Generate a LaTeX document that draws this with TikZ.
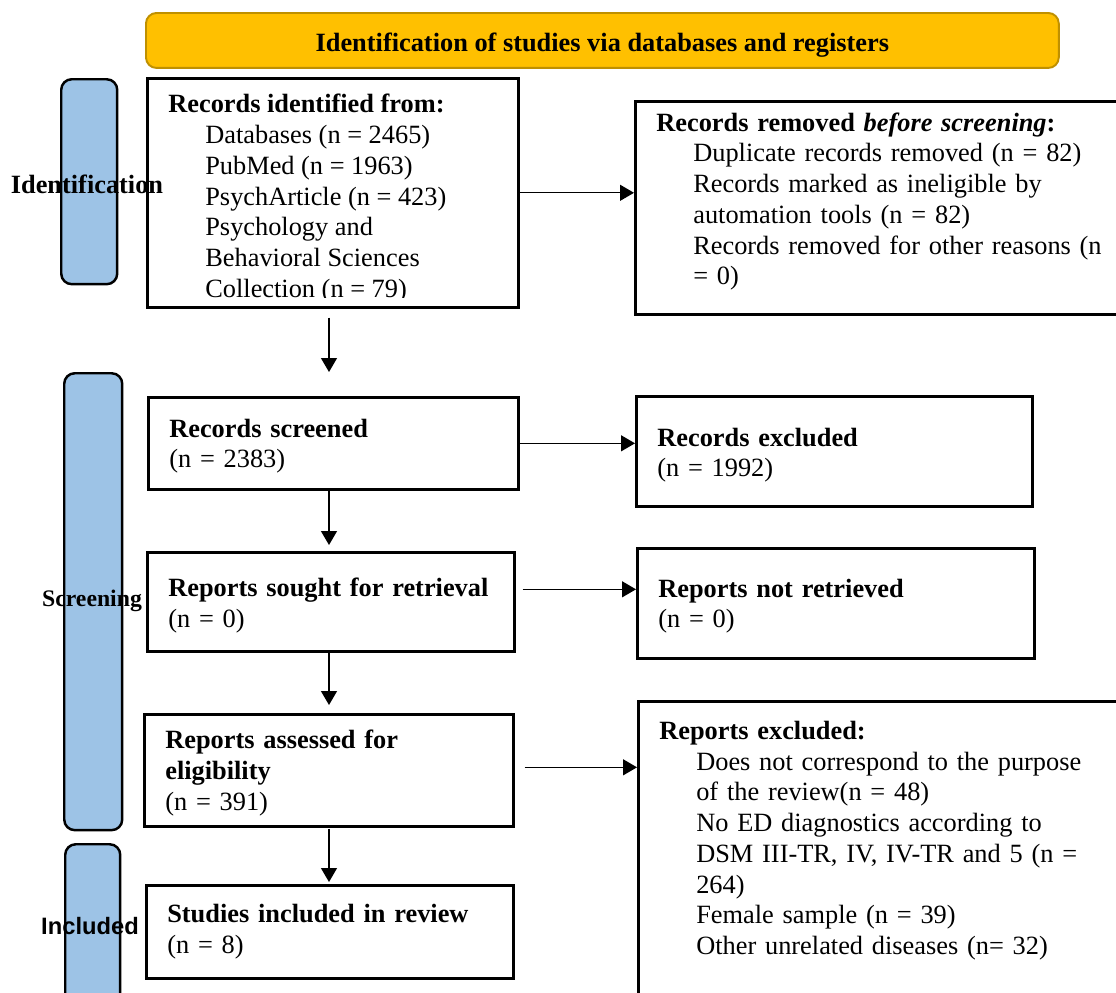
\documentclass[tikz,border=0pt]{standalone}
\usepackage{fontspec}
\setmainfont{Liberation Serif}
\newfontfamily\stagesans{Liberation Sans}
\usetikzlibrary{arrows.meta}
\definecolor{cgold}{HTML}{FFC000}
\definecolor{cgoldline}{HTML}{BF9000}
\definecolor{cstage}{HTML}{9DC3E6}
\newcommand{\indentline}{\hspace*{0.74cm}}
\tikzset{
  every picture/.style={font=\fontsize{15pt}{17.5pt}\selectfont},
  box/.style={draw=black, line width=1.5pt, align=left, anchor=north west, inner xsep=0.42cm, inner ysep=0pt},
  stage/.style={draw=black, fill=cstage, line width=1.4pt, rounded corners=6pt, anchor=north west, inner sep=0pt},
  stagelabel/.style={font=\bfseries\fontsize{13.5pt}{16pt}\selectfont, inner sep=0pt},
  arrow/.style={-{Triangle[length=0.28cm, width=0.32cm]}, draw=black, line width=0.75pt},
}

\begin{document}
\begin{tikzpicture}[x=0.02cm, y=-0.02cm,
  header/.style={draw=cgoldline, fill=cgold, line width=1.1pt, rounded corners=6pt, anchor=north west, inner sep=0pt, text height=13pt, text depth=0pt, font=\bfseries\fontsize{15pt}{17.5pt}\selectfont}]
  \useasboundingbox (0,0) rectangle (1116,992);
  \coordinate (spine) at (329,0);
  \node[header, minimum width=18.26cm, minimum height=1.1cm] (head) at (145,12) {Identification of studies via databases and registers};
  \node[stage, minimum width=1.12cm, minimum height=4.1cm] (stid) at (60,78) {};
  \node[stage, minimum width=1.16cm, minimum height=9.14cm] (stscr) at (63,372) {};
  \node[stage, minimum width=1.1cm, minimum height=4.2cm] (stinc) at (64,843) {};
  \node[stagelabel, font=\bfseries\fontsize{15pt}{17.5pt}\selectfont] (labid) at (87,184) {Identification};
  \node[stagelabel] (labscr) at (92,601) {Screening};
  \node[stagelabel, font=\stagesans\bfseries\fontsize{13.5pt}{16pt}\selectfont] (labinc) at (90,926) {Included};
  \node[box, inner sep=0pt, minimum width=7.42cm, minimum height=4.58cm] (ident) at (146,77) {};
  \begin{scope}
    \clip (146,77) rectangle (517,297);
    \node[align=left, anchor=north west, inner sep=0pt] (idtext) at (168,94)
      {\textbf{Records identified from:}\\
       \indentline Databases (n = 2465)\\
       \indentline PubMed (n = 1963)\\
       \indentline PsychArticle (n = 423)\\
       \indentline Psychology and\\
       \indentline Behavioral Sciences\\
       \indentline Collection (n = 79)};
  \end{scope}
  \node[box, text width=9.16cm, minimum height=4.26cm, text height=3.5pt] (removed) at (634,100)
    {\textbf{Records removed \emph{before screening}:}\\
     \indentline Duplicate records removed (n = 82)\\
     \indentline Records marked as ineligible by\\
     \indentline automation tools (n = 82)\\
     \indentline Records removed for other reasons (n\\
     \indentline = 0)};
  \node[box, text width=6.56cm, minimum height=1.84cm, text height=13.7pt] (scr) at (147,396)
    {\textbf{Records screened}\\(n = 2383)};
  \node[box, text width=6.50cm, minimum height=1.98cm, text height=14.9pt] (sought) at (146,551)
    {\textbf{Reports sought for retrieval}\\(n = 0)};
  \node[box, text width=6.54cm, minimum height=2.24cm, text height=13.7pt] (assess) at (143,713)
    {\textbf{Reports assessed for}\\\textbf{eligibility}\\(n = 391)};
  \node[box, text width=6.50cm, minimum height=1.86cm] (incl) at (145,884)
    {\textbf{Studies included in review}\\(n = 8)};
  \node[box, text width=7.08cm, minimum height=2.2cm, text height=14.9pt] (excl) at (635,395)
    {\textbf{Records excluded}\\(n = 1992)};
  \node[box, text width=7.10cm, minimum height=2.2cm, text height=13.5pt] (notret) at (636,547)
    {\textbf{Reports not retrieved}\\(n = 0)};
  \node[box, text width=9.16cm, minimum height=6.08cm] (repexcl) at (637,700)
    {\textbf{Reports excluded:}\\
     \indentline Does not correspond to the purpose\\
     \indentline of the review(n = 48)\\
     \indentline No ED diagnostics according to\\
     \indentline DSM III-TR, IV, IV-TR and 5 (n =\\
     \indentline 264)\\
     \indentline Female sample (n = 39)\\
     \indentline Other unrelated diseases (n= 32)\\
     \mbox{}};
  \draw[arrow, shorten <=0.18cm, shorten >=0.48cm] (ident.south -| spine) -- (scr.north -| spine);
  \draw[arrow, shorten >=0.12cm] (scr.south -| spine) -- (sought.north -| spine);
  \draw[arrow, shorten >=0.16cm] (sought.south -| spine) -- (assess.north -| spine);
  \draw[arrow, shorten <=0.02cm, shorten >=0.04cm] (assess.south -| spine) -- (incl.north -| spine);
  \draw[arrow] (ident.east) -- (ident.east -| removed.west);
  \draw[arrow] (scr.east) -- (scr.east -| excl.west);
  \draw[arrow, shorten <=0.14cm] ([yshift=0.25cm]sought.east) -- ([yshift=0.25cm]sought.east -| notret.west);
  \draw[arrow, shorten <=0.2cm] ([yshift=0.06cm]assess.east) -- ([yshift=0.06cm]assess.east -| repexcl.west);
\end{tikzpicture}
\end{document}
